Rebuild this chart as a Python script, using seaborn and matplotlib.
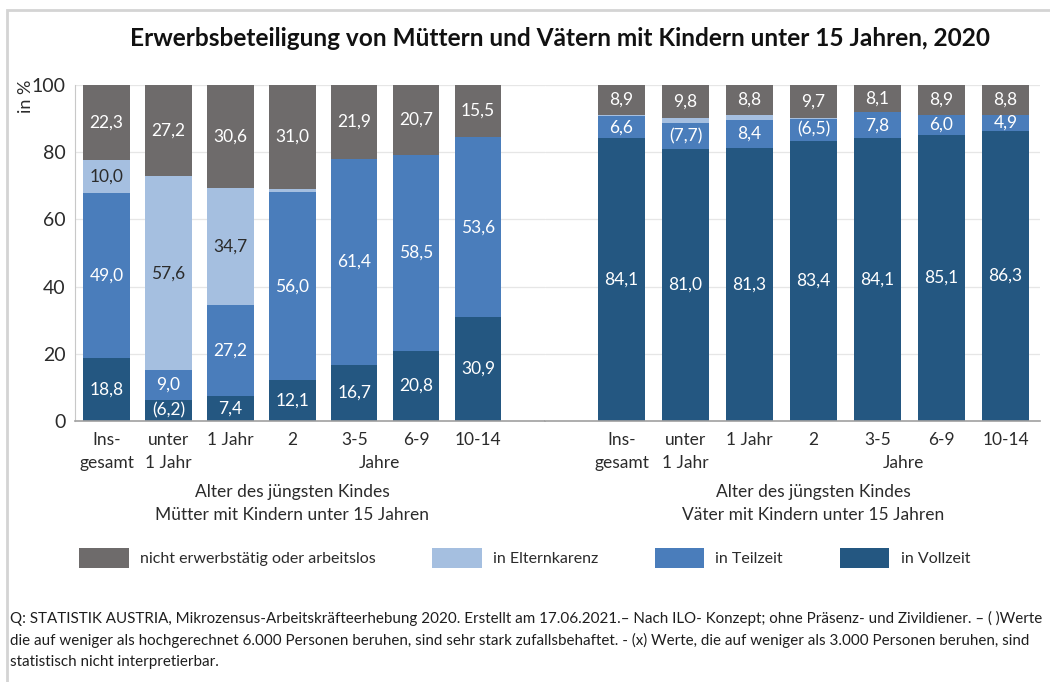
import numpy as np
import matplotlib
matplotlib.use("Agg")
import matplotlib.pyplot as plt
from matplotlib.patches import Patch, Rectangle
from matplotlib.transforms import blended_transform_factory
import seaborn as sns

# Age of the youngest child
categories = ["Ins-\ngesamt", "unter\n1 Jahr", "1 Jahr", "2", "3-5", "6-9", "10-14"]

# Mothers, shares in % (bottom to top of each bar)
mothers_vollzeit = [18.8, 6.2, 7.4, 12.1, 16.7, 20.8, 30.9]
mothers_teilzeit = [49.0, 9.0, 27.2, 56.0, 61.4, 58.5, 53.6]
mothers_karenz = [10.0, 57.6, 34.7, 0.9, 0.0, 0.0, 0.0]
mothers_nicht = [22.3, 27.2, 30.6, 31.0, 21.9, 20.7, 15.5]

# Fathers, shares in %
fathers_vollzeit = [84.1, 81.0, 81.3, 83.4, 84.1, 85.1, 86.3]
fathers_teilzeit = [6.6, 7.7, 8.4, 6.5, 7.8, 6.0, 4.9]
fathers_karenz = [0.4, 1.5, 1.5, 0.4, 0.0, 0.0, 0.0]
fathers_nicht = [8.9, 9.8, 8.8, 9.7, 8.1, 8.9, 8.8]

series_names = ["in Vollzeit", "in Teilzeit", "in Elternkarenz",
                "nicht erwerbstätig oder arbeitslos"]
legend_order = ["nicht erwerbstätig oder arbeitslos", "in Elternkarenz",
                "in Teilzeit", "in Vollzeit"]

# Values based on very few cases, shown in parentheses
low_reliability = {("Mütter", "in Vollzeit", 1),
                   ("Väter", "in Teilzeit", 1),
                   ("Väter", "in Teilzeit", 3)}

colors = {
    "in Vollzeit": "#245781",
    "in Teilzeit": "#4a7dbb",
    "in Elternkarenz": "#a5bfe0",
    "nicht erwerbstätig oder arbeitslos": "#6e6b6b",
}
label_colors = {
    "in Vollzeit": "white",
    "in Teilzeit": "white",
    "in Elternkarenz": "#2b2b2b",
    "nicht erwerbstätig oder arbeitslos": "white",
}

sns.set_style("white")
plt.rcParams["font.family"] = ["Lato", "DejaVu Sans"]

W, H = 1050, 682
fig = plt.figure(figsize=(W / 100, H / 100), dpi=100)

ax_bottom = (H - 421) / H
ax_height = 336 / H
axL = fig.add_axes([75 / W, ax_bottom, (545 - 75) / W, ax_height])
axR = fig.add_axes([545 / W, ax_bottom, (1040 - 545) / W, ax_height], sharey=axL)

positions = np.arange(len(categories))


def draw_group(ax, group, segments, width):
    vals = np.array(segments, dtype=float)
    cum = np.cumsum(vals, axis=0)
    # overlay cumulative bars from the tallest down to build the stack
    for name, level in reversed(list(zip(series_names, cum))):
        sns.barplot(x=positions, y=level, color=colors[name], width=width,
                    native_scale=True, errorbar=None, saturation=1,
                    linewidth=0, zorder=2, ax=ax)
    starts = cum - vals
    for si, name in enumerate(series_names):
        for i in range(len(categories)):
            v = vals[si, i]
            if v < 3:
                continue
            txt = f"{v:.1f}".replace(".", ",")
            if (group, name, i) in low_reliability:
                txt = f"({txt})"
            ax.text(positions[i], starts[si, i] + v / 2, txt, ha="center",
                    va="center", fontsize=12.5, color=label_colors[name], zorder=5)


draw_group(axL, "Mütter",
           [mothers_vollzeit, mothers_teilzeit, mothers_karenz, mothers_nicht], 0.75)
draw_group(axR, "Väter",
           [fathers_vollzeit, fathers_teilzeit, fathers_karenz, fathers_nicht], 0.73)

axL.set_xlim(-0.51, 7.08)
axR.set_xlim(-1.195, 6.54)
axL.set_ylim(0, 100)

for ax, sub in ((axL, "Mütter mit Kindern unter 15 Jahren"),
                (axR, "Väter mit Kindern unter 15 Jahren")):
    ax.set_xlabel("")
    ax.set_ylabel("")
    ax.set_yticks([0, 20, 40, 60, 80, 100])
    ax.yaxis.grid(True, color="#e6e6e6", lw=0.9, zorder=0)
    ax.xaxis.grid(False)
    ax.set_axisbelow(True)
    ax.set_xticks(positions)
    ax.set_xticklabels(categories, fontsize=12.5, color="#2b2b2b")
    for t in ax.get_xticklabels():
        t.set_linespacing(1.55)
    ax.tick_params(axis="x", length=0, pad=8)
    for s in ("top", "right"):
        ax.spines[s].set_visible(False)
    ax.spines["bottom"].set_color("#a0a0a0")
    ax.spines["bottom"].set_linewidth(1.2)
    tr = blended_transform_factory(ax.transData, ax.transAxes)
    ax.text(4.4, -0.125, "Jahre", transform=tr, ha="center", va="center",
            fontsize=12.5, color="#2b2b2b")
    ax.text(3, -0.21, "Alter des jüngsten Kindes", transform=tr, ha="center",
            va="center", fontsize=12.5, color="#2b2b2b")
    ax.text(3, -0.28, sub, transform=tr, ha="center", va="center",
            fontsize=12.5, color="#2b2b2b")

axL.spines["left"].set_color("#c8c8c8")
axL.tick_params(axis="y", length=5, color="#a0a0a0", labelsize=14,
                labelcolor="#2b2b2b", pad=2)
axR.spines["left"].set_visible(False)
axR.tick_params(axis="y", left=False, labelleft=False)

fig.text(26 / W, 1 - 96 / H, "in %", rotation=90, ha="center", va="center",
         fontsize=13, color="#2b2b2b")

fig.text(560 / W, 1 - 38 / H,
         "Erwerbsbeteiligung von Müttern und Vätern mit Kindern unter 15 Jahren, 2020",
         ha="center", va="center", fontsize=17.6, fontweight="bold", color="#111111")

handles = [Patch(facecolor=colors[n], edgecolor="none", label=n) for n in legend_order]
fig.legend(handles=handles, loc="center left", bbox_to_anchor=(79 / W, 1 - 558 / H),
           ncol=4, frameon=False, fontsize=11.5, handlelength=3.1, handleheight=1.55,
           handletextpad=0.7, columnspacing=3.55, borderpad=0, borderaxespad=0,
           labelcolor="#2b2b2b")

notes = [
    "Q: STATISTIK AUSTRIA, Mikrozensus-Arbeitskräfteerhebung 2020. Erstellt am 17.06.2021.– "
    "Nach ILO- Konzept; ohne Präsenz- und Zivildiener. – ( )Werte",
    "die auf weniger als hochgerechnet 6.000 Personen beruhen, sind sehr stark zufallsbehaftet. "
    "- (x) Werte, die auf weniger als 3.000 Personen beruhen, sind",
    "statistisch nicht interpretierbar.",
]
for k, line in enumerate(notes):
    fig.text(10 / W, 1 - (618 + 22 * k) / H, line, ha="left", va="center",
             fontsize=10.9, color="#1e1e1e")

fig.add_artist(Rectangle((7 / W, -0.05), 1.2, 1 - 10 / H + 0.05,
                         transform=fig.transFigure, fill=False,
                         edgecolor="#d4d4d4", linewidth=2))

fig.savefig("out.png", dpi=100)
